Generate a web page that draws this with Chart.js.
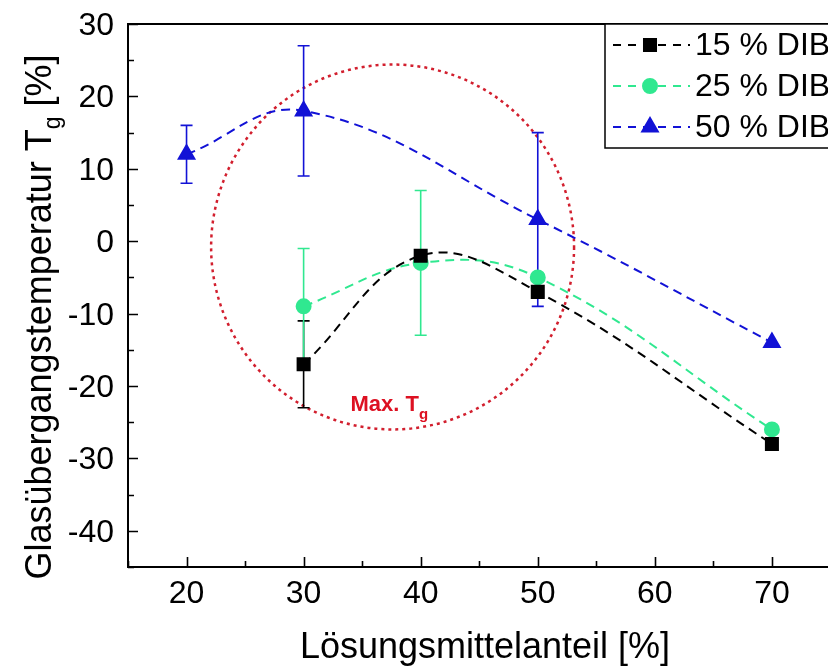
<!DOCTYPE html>
<html>
<head>
<meta charset="utf-8">
<script src="https://cdn.jsdelivr.net/npm/chart.js@4"></script>
<style>
  html, body { margin: 0; padding: 0; background: #fff; overflow: hidden; }
  #wrap { width: 900px; height: 670px; }
</style>
</head>
<body>
<div id="wrap"><canvas id="c" width="900" height="670"></canvas></div>
<script>
// Glasübergangstemperatur vs. Lösungsmittelanteil
var x15 = [30, 40, 50, 70];
var y15 = [-17, -2, -7, -28];
var err15 = [6, 0, 0, 0];

var x25 = [30, 40, 50, 70];
var y25 = [-9, -3, -5, -26];
var err25 = [8, 10, 0, 0];

var x50 = [20, 30, 50, 70];
var y50 = [12, 18, 3, -14];
var err50 = [4, 9, 12, 0];

var seriesLabels = ['15 % DIB', '25 % DIB', '50 % DIB'];
var xTicks = [20, 30, 40, 50, 60, 70];
var yTicks = [30, 20, 10, 0, -10, -20, -30, -40];

// ellipse "Max. Tg" (data units)
var ellCenter = [37.6, -0.8];
var ellRadius = [15.5, 25.2];
var noteAt = [34.0, -23.5];

var FONT = '"Liberation Sans", Arial, sans-serif';
var C_BLACK = '#000000', C_GREEN = '#30e890', C_BLUE = '#1212d6', C_RED = '#dd1122';

function pts(xs, ys) {
  return xs.map(function(x, i) { return { x: x, y: ys[i] }; });
}

var errBars = [err15, err25, err50];

var errorBarPlugin = {
  id: 'errorBars',
  beforeDatasetsDraw: function(chart) {
    var ctx = chart.ctx, xs = chart.scales.x, ys = chart.scales.y;
    // dotted ellipse
    var cx = xs.getPixelForValue(ellCenter[0]), cy = ys.getPixelForValue(ellCenter[1]);
    var rx = xs.getPixelForValue(ellCenter[0] + ellRadius[0]) - cx;
    var ry = cy - ys.getPixelForValue(ellCenter[1] + ellRadius[1]);
    ctx.save();
    ctx.beginPath();
    ctx.ellipse(cx, cy, rx, ry, 0, 0, 2 * Math.PI);
    ctx.strokeStyle = '#d21f2e';
    ctx.lineWidth = 2.5;
    ctx.setLineDash([3, 4]);
    ctx.stroke();
    ctx.setLineDash([]);
    // note
    ctx.fillStyle = C_RED;
    ctx.font = 'bold 22px ' + FONT;
    ctx.textBaseline = 'alphabetic';
    ctx.textAlign = 'left';
    var nx = xs.getPixelForValue(noteAt[0]), ny = ys.getPixelForValue(noteAt[1]);
    ctx.fillText('Max. T', nx, ny);
    var w = ctx.measureText('Max. T').width;
    ctx.font = 'bold 15px ' + FONT;
    ctx.fillText('g', nx + w, ny + 8);
    // error bars
    chart.data.datasets.forEach(function(ds, di) {
      var errs = errBars[di];
      ctx.strokeStyle = ds.borderColor;
      ctx.lineWidth = 1.6;
      ds.data.forEach(function(p, i) {
        if (!errs[i]) return;
        var px = xs.getPixelForValue(p.x);
        var top = ys.getPixelForValue(p.y + errs[i]);
        var bot = ys.getPixelForValue(p.y - errs[i]);
        ctx.beginPath();
        ctx.moveTo(px, top); ctx.lineTo(px, bot);
        ctx.moveTo(px - 6, top); ctx.lineTo(px + 6, top);
        ctx.moveTo(px - 6, bot); ctx.lineTo(px + 6, bot);
        ctx.stroke();
      });
    });
    ctx.restore();
  },
  afterDraw: function(chart) {
    var ctx = chart.ctx, a = chart.chartArea, xs = chart.scales.x, ys = chart.scales.y;
    ctx.save();
    // frame
    ctx.strokeStyle = '#000';
    ctx.lineWidth = 2;
    ctx.strokeRect(a.left, a.top, a.right - a.left, a.bottom - a.top);
    // inward ticks
    ctx.lineWidth = 1.6;
    ctx.beginPath();
    for (var v = 15; v <= 80; v += 5) {
      var px = Math.round(xs.getPixelForValue(v)) + 0.5;
      var len = v % 10 === 0 ? 10 : 6;
      ctx.moveTo(px, a.bottom); ctx.lineTo(px, a.bottom - len);
    }
    for (var t = -45; t <= 30; t += 5) {
      var py = Math.round(ys.getPixelForValue(t)) + 0.5;
      var ln = t % 10 === 0 ? 10 : 6;
      ctx.moveTo(a.left, py); ctx.lineTo(a.left + ln, py);
    }
    ctx.stroke();

    // tick labels
    ctx.fillStyle = '#000';
    ctx.font = '32px ' + FONT;
    ctx.textBaseline = 'alphabetic';
    ctx.textAlign = 'center';
    xTicks.forEach(function(v) { ctx.fillText(String(v), xs.getPixelForValue(v), a.bottom + 36); });
    ctx.textAlign = 'right';
    yTicks.forEach(function(v) { ctx.fillText(String(v), 114, ys.getPixelForValue(v) + 11); });

    // axis titles
    ctx.font = '36px ' + FONT;
    ctx.textAlign = 'center';
    ctx.fillText('Lösungsmittelanteil [%]', 485, 658);

    ctx.save();
    ctx.translate(51, 317);
    ctx.rotate(-Math.PI / 2);
    var p1 = 'Glasübergangstemperatur T', p3 = ' [%]';
    ctx.font = '36px ' + FONT;
    var w1 = ctx.measureText(p1).width, w3 = ctx.measureText(p3).width;
    ctx.font = '23px ' + FONT;
    var w2 = ctx.measureText('g').width;
    var sx = -(w1 + w2 + w3) / 2;
    ctx.textAlign = 'left';
    ctx.font = '36px ' + FONT;
    ctx.fillText(p1, sx, 0);
    ctx.font = '23px ' + FONT;
    ctx.fillText('g', sx + w1, 9);
    ctx.font = '36px ' + FONT;
    ctx.fillText(p3, sx + w1 + w2, 0);
    ctx.restore();

    // legend
    var lx = 605, ly = a.top;
    ctx.fillStyle = '#fff';
    ctx.fillRect(lx, ly, 235, 124);
    ctx.strokeStyle = '#000';
    ctx.lineWidth = 1.5;
    ctx.strokeRect(lx, ly, 235, 124);
    chart.data.datasets.forEach(function(ds, i) {
      var ry = ly + 21 + i * 41;
      ctx.strokeStyle = ds.borderColor;
      ctx.lineWidth = 2;
      ctx.setLineDash([8, 7]);
      ctx.beginPath();
      ctx.moveTo(613, ry); ctx.lineTo(690, ry);
      ctx.stroke();
      ctx.setLineDash([]);
      ctx.fillStyle = ds.pointBackgroundColor;
      ctx.strokeStyle = ds.pointBackgroundColor;
      Chart.helpers.drawPoint(ctx, {
        pointStyle: ds.pointStyle, radius: ds.pointRadius, borderWidth: 1
      }, 650, ry);
      ctx.fillStyle = '#000';
      ctx.font = '32px ' + FONT;
      ctx.textAlign = 'left';
      ctx.textBaseline = 'middle';
      ctx.fillText(ds.label, 695, ry + 1);
    });
    ctx.restore();
  }
};

new Chart(document.getElementById('c'), {
  type: 'line',
  data: {
    datasets: [
      { label: seriesLabels[0], data: pts(x15, y15), borderColor: C_BLACK, pointBackgroundColor: C_BLACK,
        pointBorderColor: C_BLACK, pointStyle: 'rect', pointRadius: 8.5, borderDash: [9, 6], borderWidth: 2, tension: 0.4 },
      { label: seriesLabels[1], data: pts(x25, y25), borderColor: C_GREEN, pointBackgroundColor: C_GREEN,
        pointBorderColor: C_GREEN, pointStyle: 'circle', pointRadius: 7, borderDash: [9, 6], borderWidth: 2, tension: 0.4 },
      { label: seriesLabels[2], data: pts(x50, y50), borderColor: C_BLUE, pointBackgroundColor: C_BLUE,
        pointBorderColor: C_BLUE, pointStyle: 'triangle', pointRadius: 9, borderDash: [9, 6], borderWidth: 2, tension: 0.4 }
    ]
  },
  options: {
    responsive: false,
    animation: false,
    layout: { padding: { left: 0, top: 24, right: 5, bottom: 0 } },
    plugins: { legend: { display: false }, tooltip: { enabled: false } },
    scales: {
      x: {
        type: 'linear', min: 15, max: 80,
        grid: { display: false, drawTicks: false },
        border: { display: false },
        afterBuildTicks: function(s) { s.ticks = xTicks.map(function(v) { return { value: v }; }); },
        afterFit: function(s) { s.height = 103; },
        ticks: { display: false }
      },
      y: {
        type: 'linear', min: -45, max: 30,
        grid: { display: false, drawTicks: false },
        border: { display: false },
        afterBuildTicks: function(s) { s.ticks = yTicks.map(function(v) { return { value: v }; }); },
        afterFit: function(s) { s.width = 128; },
        ticks: { display: false }
      }
    }
  },
  plugins: [errorBarPlugin]
});
</script>
</body>
</html>
